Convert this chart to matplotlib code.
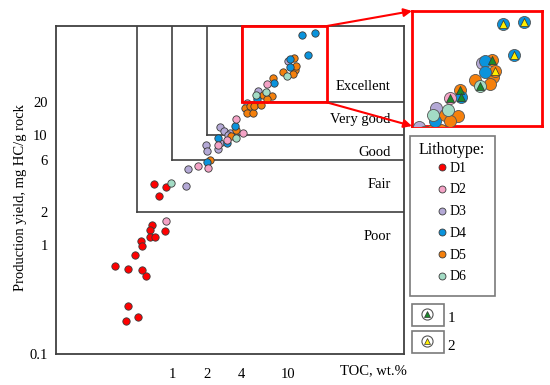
import matplotlib
matplotlib.use("Agg")
import matplotlib.pyplot as plt
from matplotlib.patches import Rectangle, ConnectionPatch
from matplotlib.lines import Line2D

plt.rcParams['font.family'] = ['Liberation Serif', 'DejaVu Serif']

# ---------------- data (TOC wt.%, production yield S1+S2 mg HC/g rock) ----------------
d1_toc = [0.70, 0.89, 0.77, 0.67, 0.64, 0.87, 0.65, 0.72, 0.54, 0.55, 0.48, 0.32, 0.42, 0.55, 0.60, 0.42, 0.51, 0.40]
d1_s   = [3.61, 3.39, 2.80, 1.51, 1.36, 1.34, 1.18, 1.17, 1.09, 0.98, 0.80, 0.64, 0.60, 0.59, 0.52, 0.275, 0.22, 0.20]

d2_toc = [0.89, 1.69, 2.06, 2.48, 2.96, 3.54, 4.12, 6.55]
d2_s   = [1.64, 5.2, 5.0, 8.2, 9.1, 14.1, 10.6, 29.5]

d3_toc = [1.32, 1.38, 1.96, 1.99, 2.59, 2.82, 3.16, 3.02, 2.59, 2.51, 5.48, 4.40, 9.94]
d3_s   = [3.46, 4.9, 8.2, 7.2, 11.8, 11.0, 10.6, 10.1, 8.5, 7.5, 25.6, 19.6, 48.2]

d4_toc = [2.02, 2.51, 3.00, 3.49, 7.57, 5.37, 10.4, 10.4, 13.1, 17.1, 15.0]
d4_s   = [5.7, 9.4, 8.5, 12.2, 29.9, 21.4, 49.6, 42.5, 83.2, 85.7, 54.0]

d5_toc = [2.13, 3.56, 3.22, 4.26, 4.70, 4.40, 5.02, 5.10, 5.85, 6.12, 7.24, 6.55, 7.47, 9.1, 11.3, 11.5, 11.1, 11.8]
d5_s   = [6.0, 11.3, 9.9, 17.7, 18.5, 15.9, 15.9, 18.7, 18.9, 23.4, 22.9, 21.5, 33.2, 38.2, 50.7, 39.6, 36.2, 43.0]

d6_toc = [0.99, 3.54, 5.27, 6.42, 9.75]
d6_s   = [3.7, 9.4, 23.4, 25.1, 34.9]

# marked samples shown in the zoom window
tri1_toc = [11.3, 9.75, 7.47, 7.57, 6.55]
tri1_s   = [50.7, 34.9, 33.2, 29.9, 29.5]
tri2_toc = [13.1, 17.1, 15.0, 11.8]
tri2_s   = [83.2, 85.7, 54.0, 43.0]

labels = ['D1', 'D2', 'D3', 'D4', 'D5', 'D6']
colors = ['#ff0000', '#f4a3c6', '#b4a9d6', '#0a93dc', '#f5800c', '#a3dcc5']
series = [(d1_toc, d1_s), (d2_toc, d2_s), (d3_toc, d3_s), (d4_toc, d4_s), (d5_toc, d5_s), (d6_toc, d6_s)]
draw_order = [0, 2, 4, 3, 1, 5]

toc_thr = [0.5, 1, 2, 4]
s_thr = [2, 6, 10, 20]
classes = ['Poor', 'Fair', 'Good', 'Very good', 'Excellent']
class_y = [1.2, 3.57, 7.0, 14.1, 27.9]

xticks = [1, 2, 4, 10]
yticks = [0.1, 1, 2, 6, 10, 20]

W, H = 550, 385
fig = plt.figure(figsize=(5.5, 3.85), dpi=100)

def fx(px):
    return px / W

def fy(py):
    return 1 - py / H

ax = fig.add_axes([fx(56), fy(354), (404 - 56) / W, (354 - 26) / H])
ax.set_xscale('log')
ax.set_yscale('log')
ax.set_xlim(0.1, 100)
ax.set_ylim(0.1, 100)
for sp in ax.spines.values():
    sp.set_color('#404040')
    sp.set_linewidth(1.3)
ax.minorticks_off()
ax.set_xticks(xticks)
ax.set_xticklabels([str(v) for v in xticks], fontsize=10.5)
ax.set_yticks(yticks)
ax.set_yticklabels([('%g' % v) for v in yticks], fontsize=10.5)
ax.tick_params(axis='x', length=0, pad=10)
ax.tick_params(axis='y', length=0, pad=6)

# classification boundaries
lc = '#404040'
for tx, sy in zip(toc_thr, s_thr):
    ax.plot([tx, tx], [sy, 100], color=lc, lw=1.2, zorder=1)
    ax.plot([tx, 100], [sy, sy], color=lc, lw=1.2, zorder=1)

for name, yv in zip(classes, class_y):
    ax.text(77, yv, name, ha='right', va='center', fontsize=10.5)

for i in draw_order:
    t, s = series[i]
    ax.scatter(t, s, s=28, c=colors[i], edgecolors='#3a3a3a', linewidths=0.6, zorder=3)

# zoom box
box_x0, box_x1, box_y0, box_y1 = 4, 21.7, 20, 100
ax.add_patch(Rectangle((box_x0, box_y0), box_x1 - box_x0, box_y1 - box_y0, fill=False,
                       edgecolor='#ff0000', lw=2, zorder=5, clip_on=False))

# inset
ins = fig.add_axes([fx(412), fy(126), 130 / W, 115 / H])
ins.set_xscale('log')
ins.set_yscale('log')
ins.set_xlim(box_x0, box_x1)
ins.set_ylim(box_y0, box_y1)
ins.set_xticks([])
ins.set_yticks([])
ins.minorticks_off()
for sp in ins.spines.values():
    sp.set_color('#ff0000')
    sp.set_linewidth(2)
for i in draw_order:
    t, s = series[i]
    ins.scatter(t, s, s=75, c=colors[i], edgecolors='#555555', linewidths=0.6, zorder=3)
ins.scatter(tri1_toc, tri1_s, marker='^', s=34, c='#1a8a2a', edgecolors='#333333', linewidths=0.5, zorder=4)
ins.scatter(tri2_toc, tri2_s, marker='^', s=34, c='#ffee00', edgecolors='#333333', linewidths=0.5, zorder=4)

for (xa, ya), (xb, yb) in [((box_x1, box_y1), (0, 1)), ((box_x1, box_y0), (0, 0))]:
    cp = ConnectionPatch(xyA=(xa, ya), coordsA=ax.transData, xyB=(xb, yb), coordsB=ins.transAxes,
                         arrowstyle='-|>', mutation_scale=12, color='#ff0000', lw=1.5, zorder=6)
    fig.add_artist(cp)

# overlay for legend and labels (pixel layout)
ov = fig.add_axes([0, 0, 1, 1], zorder=-1)
ov.set_xlim(0, W)
ov.set_ylim(H, 0)
ov.axis('off')

ov.add_patch(Rectangle((410, 136), 85, 160, fill=False, edgecolor='#7a7a7a', lw=1.2))
ov.text(452, 150, 'Lithotype:', ha='center', va='center', fontsize=11.5)
for k, (lab, col) in enumerate(zip(labels, colors)):
    yy = 167 + k * 21.8
    ov.add_line(Line2D([442], [yy], marker='o', ms=5, mfc=col, mec='#3a3a3a', mew=0.6, ls='none'))
    ov.text(450, yy + 1, lab, ha='left', va='center', fontsize=10)

for yb, col, lab in [(304, '#1a8a2a', '1'), (331, '#ffee00', '2')]:
    ov.add_patch(Rectangle((412, yb), 32, 22, fill=False, edgecolor='#7a7a7a', lw=1.2))
    ov.add_line(Line2D([427], [yb + 10], marker='o', ms=8, mfc='white', mec='#555555', mew=0.8, ls='none'))
    ov.add_line(Line2D([427], [yb + 10], marker='^', ms=5, mfc=col, mec='#333333', mew=0.5, ls='none'))
    ov.text(451, yb + 15, lab, ha='center', va='center', fontsize=11)

ov.text(407, 371, 'TOC, wt.%', ha='right', va='center', fontsize=10.5)
ov.text(21, 198, 'Production yield, mg HC/g rock', ha='center', va='center', rotation=90, fontsize=10.5)

fig.savefig('out.png', dpi=100)
